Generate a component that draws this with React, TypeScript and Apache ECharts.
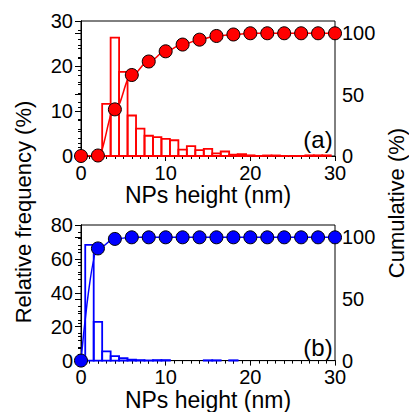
import React, { useEffect, useRef } from "react";
import * as echarts from "echarts";

// Panel (a)
const topBinCenters = [3, 4, 5, 6, 7, 8, 9, 10, 11, 12, 13, 14, 15, 16, 17, 18, 19, 20, 21, 22, 23, 24, 25, 26, 27, 28, 29];
const topFreq = [11.6, 26.3, 18.7, 9.0, 6.1, 4.5, 4.2, 3.8, 3.5, 1.4, 2.2, 1.3, 1.6, 0.6, 1.0, 0.3, 0.4, 0.15, 0, 0.12, 0.12, 0, 0, 0, 0.15, 0.15, 0.15];
const cumX = [0, 2, 4, 6, 8, 10, 12, 14, 16, 18, 20, 22, 24, 26, 28, 30];
const topCum = [0, 0.4, 38, 66, 77, 85.3, 90.8, 94.8, 97.8, 99, 100, 100, 100, 100, 100, 100];

// Panel (b)
const botBinCenters = [1, 2, 3, 4, 5, 6, 7, 8, 9, 10, 15, 16, 18];
const botFreq = [68.3, 22.8, 5.5, 2.6, 1.4, 0.6, 0.3, 0.1, 0.3, 0.3, 0.2, 0.2, 0.2];
const botCum = [0, 91, 98.7, 100, 100, 100, 100, 100, 100, 100, 100, 100, 100, 100, 100, 100];

const xTicks = [0, 10, 20, 30];
const FONT = "'Liberation Sans', Arial, sans-serif";

export default function App() {
  const ref = useRef<HTMLDivElement>(null);
  useEffect(() => {
    const chart = echarts.init(ref.current!, null, { renderer: "svg" });
    const black = "#000";
    const lbl = { color: black, fontSize: 20, lineHeight: 15, fontFamily: FONT };
    const histItem = (color: string) => (params: any, api: any) => {
      const x = api.value(0);
      const y = api.value(1);
      const p0 = api.coord([x - 0.5, y]);
      const p1 = api.coord([x + 0.5, 0]);
      return {
        type: "rect",
        shape: { x: p0[0], y: p0[1], width: p1[0] - p0[0], height: p1[1] - p0[1] },
        style: { fill: "rgba(255,255,255,0)", stroke: color, lineWidth: 1.8 },
      };
    };
    const xBottom = (gi: number) => ({
      type: "value",
      gridIndex: gi,
      min: 0,
      max: 30,
      interval: 10,
      position: "bottom",
      axisLine: { lineStyle: { color: black, width: 1 } },
      axisTick: { length: 5, lineStyle: { color: black } },
      minorTick: { show: true, splitNumber: 10, length: 3, lineStyle: { color: black } },
      splitLine: { show: false },
      axisLabel: { ...lbl, margin: 9, formatter: (v: number) => (xTicks.includes(v) ? String(v) : "") },
      name: "NPs height (nm)",
      nameLocation: "middle",
      nameGap: 21,
      nameTextStyle: { color: black, fontSize: 23, fontFamily: FONT },
    });
    const xTop = (gi: number) => ({
      type: "value",
      gridIndex: gi,
      min: 0,
      max: 30,
      interval: 2,
      position: "top",
      axisLine: { show: true, lineStyle: { color: black } },
      axisTick: { inside: true, length: 3, lineStyle: { color: black } },
      axisLabel: { show: false },
      splitLine: { show: false },
    });
    const yLeft = (gi: number, max: number, interval: number) => ({
      type: "value",
      gridIndex: gi,
      min: 0,
      max,
      interval,
      position: "left",
      axisLine: { show: true, lineStyle: { color: black } },
      axisTick: { length: 6, lineStyle: { color: black } },
      minorTick: { show: true, splitNumber: 5, length: 3, lineStyle: { color: black } },
      splitLine: { show: false },
      axisLabel: { ...lbl, margin: 8 },
    });
    const yRight = (gi: number) => ({
      type: "value",
      gridIndex: gi,
      min: 0,
      max: 110,
      interval: 50,
      position: "right",
      axisLine: { show: true, lineStyle: { color: black } },
      axisTick: { inside: true, length: 6, lineStyle: { color: black } },
      minorTick: { show: true, splitNumber: 5, length: 3, lineStyle: { color: black } },
      splitLine: { show: false },
      axisLabel: { ...lbl, margin: 7, showMaxLabel: false },
    });
    const cumSeries = (xi: number, yi: number, ys: number[], color: string) => ({
      type: "line",
      xAxisIndex: xi,
      yAxisIndex: yi,
      data: cumX.map((x, i) => [x, ys[i]]),
      smooth: 0.4,
      smoothMonotone: "x",
      symbol: "circle",
      symbolSize: 13,
      lineStyle: { color, width: 1.5 },
      itemStyle: { color, borderColor: black, borderWidth: 1 },
      clip: false,
      z: 5,
    });
    chart.setOption({
      animation: false,
      grid: [
        { left: 81, right: 74, top: 21, height: 135, show: true, borderColor: black, borderWidth: 1, backgroundColor: "transparent" },
        { left: 81, right: 74, top: 225, height: 137, show: true, borderColor: black, borderWidth: 1, backgroundColor: "transparent" },
      ],
      xAxis: [xBottom(0), xTop(0), xBottom(1), xTop(1)],
      yAxis: [yLeft(0, 30, 10), yRight(0), yLeft(1, 80, 20), yRight(1)],
      series: [
        {
          type: "custom",
          xAxisIndex: 0,
          yAxisIndex: 0,
          data: topBinCenters.map((x, i) => [x, topFreq[i]]),
          renderItem: histItem("#ff0000"),
          z: 2,
        },
        cumSeries(0, 1, topCum, "#ff0000"),
        {
          type: "custom",
          xAxisIndex: 2,
          yAxisIndex: 2,
          data: botBinCenters.map((x, i) => [x, botFreq[i]]),
          renderItem: histItem("#0000ff"),
          z: 2,
        },
        cumSeries(2, 3, botCum, "#0000ff"),
      ],
      graphic: [
        {
          type: "text",
          x: 23,
          y: 212,
          rotation: Math.PI / 2,
          style: { text: "Relative frequency (%)", fill: black, font: `22px ${FONT}`, align: "center", verticalAlign: "middle" },
        },
        {
          type: "text",
          x: 396,
          y: 203,
          rotation: Math.PI / 2,
          style: { text: "Cumulative (%)", fill: black, font: `22px ${FONT}`, align: "center", verticalAlign: "middle" },
        },
        {
          type: "text",
          x: 318,
          y: 139,
          style: { text: "(a)", fill: black, font: `24px ${FONT}`, align: "center", verticalAlign: "middle" },
        },
        {
          type: "text",
          x: 318,
          y: 347,
          style: { text: "(b)", fill: black, font: `24px ${FONT}`, align: "center", verticalAlign: "middle" },
        },
      ],
    });
    return () => chart.dispose();
  }, []);
  return <div ref={ref} style={{ position: "absolute", left: 0, top: 0, width: 409, height: 412 }} />;
}
